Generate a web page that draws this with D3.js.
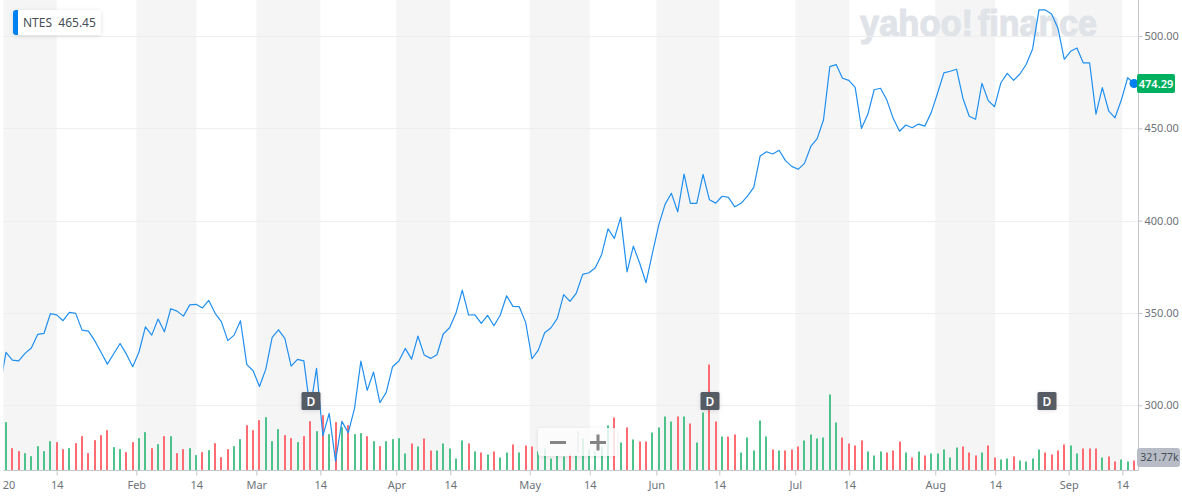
<!DOCTYPE html>
<html>
<head>
<meta charset="utf-8">
<script src="https://cdn.jsdelivr.net/npm/d3@7"></script>
<style>
  body { margin: 0; background: #fff; }
  text { font-family: "Noto Sans", sans-serif; }
</style>
</head>
<body>
<div id="plot"></div>
<script>
// closing price per session, first one starts just outside the left edge
const closes = [309.3, 328.7, 324.5, 324.1, 328.1, 331, 338.4, 339, 349.6, 349, 345.8, 350.3, 349.8, 340.7, 340.2, 335,
  328.7, 322.3, 327.9, 333.5, 327.7, 320.9, 329, 342.5, 338, 346.7, 339.8, 352.3, 351, 348.3, 354.4, 354.7,
  352.7, 356.8, 349.8, 345.2, 335, 338, 345.8, 322, 318.7, 310.2, 319.6, 336.8, 340.9, 336.2, 321.2, 324.9, 324.1,
  297.8, 320, 283.5, 295.6, 269.8, 291.3, 285.1, 298.3, 323.9, 308.1, 318, 301.4, 307, 320.9, 324,
  330.8, 325, 337.5, 327.2, 325.4, 327.4, 338.6, 342, 349.8, 362.4, 348.9, 349, 344.4, 348.7, 343.1, 348.9,
  359.3, 353.6, 353.4, 344.9, 325.2, 329.9, 339.3, 342, 347.1, 359.9, 356.3, 360.8, 370.9, 371.8, 374.5, 381.7,
  395.6, 390.4, 401.8, 372.3, 386.2, 376.9, 366.4, 382.3, 397.6, 408.8, 414.8, 404.8, 425.2, 409.4, 409.4,
  425.1, 411.3, 409.5, 413.2, 412.6, 407.5, 409.4, 413.3, 418, 435, 437.3, 436.1, 438.1, 432.5, 429.4, 427.8,
  431, 440.2, 444.4, 454.5, 483.4, 484.5, 477.1, 476, 472.2, 450, 457.6, 470.9, 471.7, 465.3, 455.4, 448.4,
  451.8, 450.3, 452.3, 451.2, 458.5, 469, 480, 480.9, 482, 466.3, 456.5, 454.9, 474.4, 465, 461.7, 474.7,
  479.8, 476, 479.4, 484.7, 493, 514.1, 514.1, 511.9, 504.2, 487.4, 491.7, 493.5, 485.4, 485.4, 457.7, 472,
  459.5, 455.7, 465.3, 477.4, 474.29];

// volume in thousands, one per session
const volumes = [1556, 719, 622, 558, 461, 783, 622, 944, 912, 687, 719, 880, 1105, 558, 976, 1137, 1298, 751, 687, 590,
  912, 1041, 1234, 719, 848, 1105, 1105, 558, 687, 719, 494, 590, 655, 880, 429, 687, 783, 1009, 1459, 1298,
  1620, 1717, 944, 1331, 1137, 1041, 912, 1105, 1588, 1266, 1781, 1170, 1556, 1395, 1459, 1170, 1202, 1105, 944, 783,
  944, 1009, 1041, 547, 869, 773, 1030, 644, 644, 869, 708, 386, 966, 869, 612, 579, 515, 612, 418, 579,
  837, 579, 805, 773, 612, 708, 386, 483, 451, 547, 515, 1030, 676, 612, 773, 1449, 1706, 901, 1384, 998,
  934, 934, 1223, 1384, 1738, 1577, 1738, 1738, 1513, 901, 1867, 3412, 1577, 1094, 1094, 1159, 579, 1062, 644, 1610,
  1094, 676, 644, 644, 676, 773, 966, 1159, 1030, 1062, 2446, 1545, 1062, 869, 805, 966, 612, 483, 612, 579,
  644, 934, 579, 418, 612, 483, 547, 547, 676, 418, 740, 773, 579, 483, 579, 805, 418, 354, 386, 451,
  322, 290, 386, 676, 579, 515, 644, 837, 805, 547, 708, 708, 708, 418, 451, 290, 354, 290, 322];

// 1 = up day (green), 0 = down day (red)
const volumeUp = [1, 0, 0, 1, 1, 1, 1, 1, 0, 0, 1, 0, 0, 0, 0, 0, 0, 1, 1, 0,
  0, 1, 1, 0, 1, 0, 1, 0, 0, 1, 1, 0, 1, 0, 0, 0, 1, 1, 0, 0,
  0, 1, 1, 1, 0, 0, 1, 0, 0, 1, 0, 1, 0, 1, 0, 1, 1, 0, 1, 0,
  1, 1, 1, 1, 0, 1, 0, 0, 1, 1, 1, 1, 1, 0, 1, 0, 1, 0, 1, 1,
  0, 1, 0, 0, 1, 1, 1, 1, 1, 0, 1, 1, 1, 1, 1, 1, 0, 1, 0, 1,
  0, 0, 1, 1, 1, 1, 0, 1, 0, 1, 1, 0, 0, 1, 0, 0, 1, 1, 1, 1,
  1, 0, 1, 0, 0, 0, 1, 1, 1, 1, 1, 1, 0, 0, 0, 0, 1, 1, 1, 0,
  0, 0, 1, 0, 1, 0, 1, 1, 1, 1, 1, 0, 0, 0, 1, 0, 0, 1, 1, 0,
  1, 1, 1, 1, 0, 0, 0, 0, 1, 1, 0, 0, 0, 1, 0, 0, 1, 1, 0];

// x axis ticks, in session numbers
const tickSessions = [8, 20.56, 30.03, 39.5, 49.6, 61.59, 70.11, 82.64, 92.11, 102.62, 112.56, 124.55, 133.07, 146.64, 156.1, 167.69, 176.16];
const tickLabels = ["14", "Feb", "14", "Mar", "14", "Apr", "14", "May", "14", "Jun", "14", "Jul", "14", "Aug", "14", "Sep", "14"];
const priceTicks = [300, 350, 400, 450, 500];

// month shading, start and end session of each grey block
const monthBands = [[-0.4, 8], [20.56, 30.03], [39.5, 49.6], [61.59, 70.11], [82.64, 92.11], [102.62, 112.56], [124.55, 133.07], [146.64, 156.1], [167.69, 176.16]];
const dividendSessions = [48.1, 111.1, 164.3];

const symbol = "NTES";
const lastShown = "465.45";
const lastClose = 474.29;
const lastVolume = "321.77k";

const w = 1182;
const h = 497;
const plotLeft = 3.5;
const plotRight = 1138.5;
const baseY = 470.5;

const svg = d3.select("div#plot")
  .append("svg")
    .attr("width", w)
    .attr("height", h)
    .style("display", "block");

const defs = svg.append("defs");
defs.append("clipPath")
  .attr("id", "plotclip")
  .append("rect")
    .attr("x", plotLeft)
    .attr("y", 0)
    .attr("width", plotRight - plotLeft)
    .attr("height", baseY);

const shadow = defs.append("filter")
  .attr("id", "soft")
  .attr("x", "-20%").attr("y", "-30%")
  .attr("width", "140%").attr("height", "170%");
shadow.append("feDropShadow")
  .attr("dx", 0).attr("dy", 1)
  .attr("stdDeviation", 2)
  .attr("flood-color", "#000")
  .attr("flood-opacity", 0.12);

// scales
const xScale = d3.scaleLinear().domain([0, 178]).range([6, 1134]);
const yScale = d3.scaleLinear().domain([300, 500]).range([405.3, 36]);
const volScale = d3.scaleLinear().domain([0, d3.max(volumes)]).range([baseY, baseY - 106]);

// month bands
svg.append("g")
  .selectAll("rect")
  .data(monthBands)
  .enter()
  .append("rect")
    .attr("x", d => Math.max(plotLeft, xScale(d[0])))
    .attr("y", 0)
    .attr("width", d => xScale(d[1]) - Math.max(plotLeft, xScale(d[0])))
    .attr("height", baseY)
    .attr("fill", "#f5f5f5");

// watermark, two separate words so they can be fitted on their own
const logo = svg.append("g")
  .attr("fill", "#e0e3e8")
  .attr("stroke", "#e0e3e8")
  .attr("stroke-width", 1.2)
  .style("font-size", "37px");
logo.append("text")
  .attr("x", 860)
  .attr("y", 36)
  .attr("textLength", 113)
  .attr("lengthAdjust", "spacingAndGlyphs")
  .style("font-family", "'Liberation Sans', sans-serif")
  .style("font-weight", 700)
  .text("yahoo!");
logo.append("text")
  .attr("x", 978)
  .attr("y", 36)
  .attr("textLength", 119)
  .attr("lengthAdjust", "spacingAndGlyphs")
  .style("font-family", "'Liberation Sans', sans-serif")
  .style("font-weight", 700)
  .text("finance");

// horizontal gridlines
svg.append("g")
  .selectAll("line")
  .data(priceTicks)
  .enter()
  .append("line")
    .attr("x1", plotLeft)
    .attr("x2", plotRight)
    .attr("y1", d => Math.round(yScale(d)) + 0.5)
    .attr("y2", d => Math.round(yScale(d)) + 0.5)
    .attr("stroke", "#eeeeee");

// volume bars
svg.append("g")
  .selectAll("rect")
  .data(volumes)
  .enter()
  .append("rect")
    .attr("x", (d, i) => Math.round(xScale(i)) - 1)
    .attr("y", d => volScale(d))
    .attr("width", 2)
    .attr("height", d => baseY - volScale(d))
    .attr("fill", (d, i) => volumeUp[i] ? "#4dc38b" : "#ff6b73");

// price line
const line = d3.line()
  .x((d, i) => xScale(i - 1))
  .y(d => yScale(d));

svg.append("path")
  .datum(closes)
  .attr("clip-path", "url(#plotclip)")
  .attr("fill", "none")
  .attr("stroke", "#1f8ff0")
  .attr("stroke-width", 1.2)
  .attr("stroke-linejoin", "round")
  .attr("d", line);

// axes
const xAxis = d3.axisBottom(xScale)
  .tickValues(tickSessions)
  .tickFormat((d, i) => tickLabels[i])
  .tickSize(5)
  .tickPadding(5.5);
const xG = svg.append("g")
  .attr("transform", `translate(0, ${baseY})`)
  .call(xAxis);
xG.select(".domain").remove();
xG.selectAll("line").attr("stroke", "#c4c7cc");
xG.selectAll("text").attr("fill", "#6e7379").style("font-size", "11px");

const yAxis = d3.axisRight(yScale)
  .tickValues(priceTicks)
  .tickFormat(d3.format(".2f"))
  .tickSize(4)
  .tickPadding(2);
const yG = svg.append("g")
  .attr("transform", `translate(${plotRight}, 0)`)
  .call(yAxis);
yG.select(".domain").remove();
yG.selectAll("line").attr("stroke", "#c4c7cc");
yG.selectAll("text").attr("fill", "#6e7379").style("font-size", "11px");

svg.append("text")
  .attr("x", 9)
  .attr("y", 489)
  .attr("text-anchor", "middle")
  .attr("fill", "#6e7379")
  .style("font-size", "11px")
  .text("20");

svg.append("line")
  .attr("x1", plotLeft).attr("x2", plotRight)
  .attr("y1", baseY).attr("y2", baseY)
  .attr("stroke", "#c4c7cc");
svg.append("line")
  .attr("x1", plotRight).attr("x2", plotRight)
  .attr("y1", 0).attr("y2", baseY)
  .attr("stroke", "#c4c7cc");

// dividend markers
const markers = svg.append("g")
  .selectAll("g")
  .data(dividendSessions)
  .enter()
  .append("g")
    .attr("transform", d => `translate(${Math.round(xScale(d))}, 401)`);
markers.append("rect")
  .attr("x", -9.5).attr("y", -9)
  .attr("width", 19).attr("height", 18)
  .attr("rx", 1.5)
  .attr("fill", "#51565f")
  .attr("fill-opacity", 0.96)
  .attr("filter", "url(#soft)");
markers.append("text")
  .attr("y", 4.5)
  .attr("text-anchor", "middle")
  .attr("fill", "#fff")
  .style("font-size", "12px")
  .style("font-weight", 600)
  .text("D");

// zoom buttons
const zoomBox = svg.append("g").attr("transform", "translate(538, 428)");
zoomBox.append("rect")
  .attr("width", 79).attr("height", 28)
  .attr("rx", 3)
  .attr("fill", "#fff")
  .attr("fill-opacity", 0.82)
  .attr("filter", "url(#soft)");
zoomBox.append("line")
  .attr("x1", 40).attr("x2", 40)
  .attr("y1", 3).attr("y2", 25)
  .attr("stroke", "#e6e8ea");
zoomBox.append("path")
  .attr("d", "M12 14.5H28M52 14.5H68M60 6.5V22.5")
  .attr("fill", "none")
  .attr("stroke", "#858585")
  .attr("stroke-width", 3);

// legend chip
const chip = svg.append("g").attr("transform", "translate(13, 10)");
chip.append("rect")
  .attr("width", 88).attr("height", 25)
  .attr("rx", 3)
  .attr("fill", "#fff")
  .attr("filter", "url(#soft)");
chip.append("path")
  .attr("d", "M5 0H3A3 3 0 0 0 0 3V22A3 3 0 0 0 3 25H5Z")
  .attr("fill", "#0081f2");
chip.append("text")
  .attr("x", 10)
  .attr("y", 17)
  .attr("fill", "#464e56")
  .style("font-size", "12px")
  .text(symbol + "\u00a0\u00a0" + lastShown);

// last price dot and label
svg.append("circle")
  .attr("cx", xScale(178))
  .attr("cy", yScale(lastClose))
  .attr("r", 4.5)
  .attr("fill", "#0081f2");
svg.append("rect")
  .attr("x", 1137).attr("y", 74)
  .attr("width", 38).attr("height", 19)
  .attr("rx", 2)
  .attr("fill", "#00b061");
svg.append("text")
  .attr("x", 1156).attr("y", 87.5)
  .attr("text-anchor", "middle")
  .attr("fill", "#fff")
  .style("font-size", "11px")
  .style("font-weight", 600)
  .text(lastClose.toFixed(2));

// last volume label
svg.append("rect")
  .attr("x", 1137).attr("y", 448)
  .attr("width", 43).attr("height", 19)
  .attr("rx", 3)
  .attr("fill", "#b8bcc6");
svg.append("text")
  .attr("x", 1159.5).attr("y", 461)
  .attr("text-anchor", "middle")
  .attr("fill", "#464e56")
  .style("font-size", "10.5px")
  .text(lastVolume);
</script>
</body>
</html>
